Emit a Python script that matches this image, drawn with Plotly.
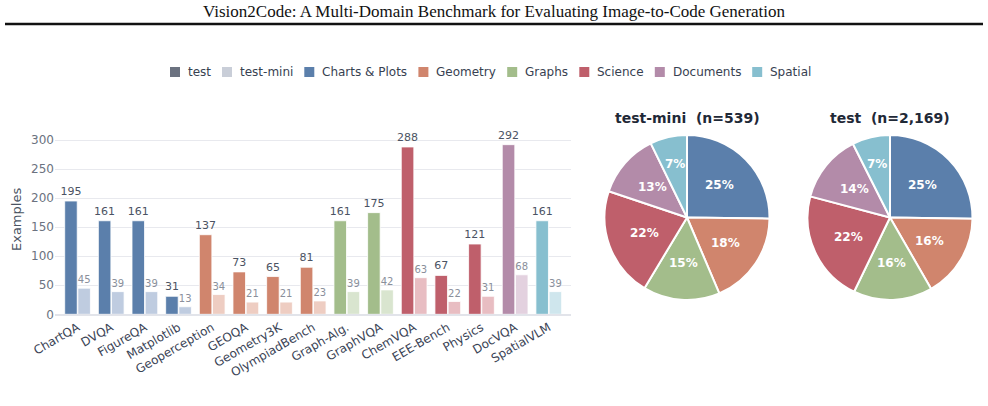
import math
import plotly.graph_objects as go

W, H = 988, 406

categories = ["ChartQA", "DVQA", "FigureQA", "Matplotlib", "Geoperception", "GEOQA",
              "Geometry3K", "OlympiadBench", "Graph-Alg.", "GraphVQA", "ChemVQA",
              "EEE-Bench", "Physics", "DocVQA", "SpatialVLM"]
test_counts = [195, 161, 161, 31, 137, 73, 65, 81, 161, 175, 288, 67, 121, 292, 161]
test_mini_counts = [45, 39, 39, 13, 34, 21, 21, 23, 39, 42, 63, 22, 31, 68, 39]
category_domain = ["Charts & Plots"] * 4 + ["Geometry"] * 4 + ["Graphs"] * 2 + \
                  ["Science"] * 3 + ["Documents"] + ["Spatial"]

domains = ["Charts & Plots", "Geometry", "Graphs", "Science", "Documents", "Spatial"]
domain_colors = ["#5b7fab", "#d0856d", "#a3bd8b", "#bf5f6b", "#b38ba9", "#87bfcf"]
domain_light = ["#bfcce0", "#eecdc2", "#d9e5cf", "#e8bdc2", "#e3d1df", "#cfe6ed"]

split_names = ["test", "test-mini"]
split_colors = ["#6b7280", "#c9ced8"]

test_total_label = "test  (n=2,169)"
mini_total_label = "test-mini  (n=539)"

cmap = dict(zip(domains, domain_colors))
lmap = dict(zip(domains, domain_light))


def px_x(x):
    return x / W


def px_y(y):
    return (H - y) / H


fig = go.Figure()

fig.add_trace(go.Bar(
    x=categories, y=test_counts, name="test", offsetgroup="test",
    marker=dict(color=[cmap[d] for d in category_domain], line=dict(color="white", width=0.8)),
    text=test_counts, textposition="outside", cliponaxis=False, constraintext="none",
    textfont=dict(size=11, color="#4b5363"), showlegend=False,
))
fig.add_trace(go.Bar(
    x=categories, y=test_mini_counts, name="test-mini", offsetgroup="mini",
    marker=dict(color=[lmap[d] for d in category_domain], line=dict(color="white", width=0.8)),
    text=test_mini_counts, textposition="outside", cliponaxis=False, constraintext="none",
    textfont=dict(size=10, color="#8a8f9b"), showlegend=False,
))

mini_vals = [sum(v for v, d in zip(test_mini_counts, category_domain) if d == dom) for dom in domains]
test_vals = [sum(v for v, d in zip(test_counts, category_domain) if d == dom) for dom in domains]


def rounded_percents(vals):
    tot = sum(vals)
    raw = [v * 100 / tot for v in vals]
    fl = [math.floor(r) for r in raw]
    rem = 100 - sum(fl)
    order = sorted(range(len(vals)), key=lambda i: raw[i] - fl[i], reverse=True)
    for i in order[:rem]:
        fl[i] += 1
    return fl


annotations = []


def add_pie(vals, cx, cy, r):
    fig.add_trace(go.Pie(
        labels=domains, values=vals, sort=False, direction="clockwise", rotation=0,
        marker=dict(colors=domain_colors, line=dict(color="white", width=2)),
        textinfo="none", showlegend=False, hoverinfo="label+value+percent",
        domain=dict(x=[px_x(cx - r), px_x(cx + r)], y=[px_y(cy + r), px_y(cy - r)]),
    ))
    tot = sum(vals)
    pcts = rounded_percents(vals)
    cum = 0
    for v, p in zip(vals, pcts):
        frac = v / tot
        mid = (cum + frac / 2) * 2 * math.pi
        cum += frac
        rr = r * (0.67 if frac < 0.1 else 0.555)
        annotations.append(dict(
            text=f"<b>{p}%</b>", x=px_x(cx + rr * math.sin(mid)), y=px_y(cy - rr * math.cos(mid)),
            xref="paper", yref="paper", showarrow=False, xanchor="center", yanchor="middle",
            font=dict(family="DejaVu Sans", size=12, color="white")))


add_pie(mini_vals, 687, 217.5, 82.5)
add_pie(test_vals, 890, 217.5, 82.5)

annotations += [
    dict(text="Vision2Code: A Multi-Domain Benchmark for Evaluating Image-to-Code Generation",
         x=px_x(494), y=px_y(12), xref="paper", yref="paper", showarrow=False,
         font=dict(family="Liberation Serif", size=17, color="#111111"), xanchor="center", yanchor="middle"),
    dict(text=mini_total_label, x=px_x(687), y=px_y(118), xref="paper", yref="paper", showarrow=False,
         font=dict(family="DejaVu Sans", size=14, color="#1f2937", weight="bold"), xanchor="center", yanchor="middle"),
    dict(text=test_total_label, x=px_x(890), y=px_y(118), xref="paper", yref="paper", showarrow=False,
         font=dict(family="DejaVu Sans", size=14, color="#1f2937", weight="bold"), xanchor="center", yanchor="middle"),
    dict(text="Examples", x=px_x(16), y=px_y(220), xref="paper", yref="paper", showarrow=False,
         textangle=-90, font=dict(family="DejaVu Sans", size=13, color="#4b5563"),
         xanchor="center", yanchor="middle"),
]

# compact legend: coloured squares + labels
legend_names = split_names + domains
legend_colors = split_colors + domain_colors
legend_text_widths = [23.0, 53.3, 85.1, 59.8, 43.1, 46.5, 68.4, 41.3]
shapes = [dict(type="line", xref="paper", yref="paper", x0=px_x(5), x1=px_x(983),
               y0=px_y(24), y1=px_y(24), line=dict(color="#111111", width=2.5))]
lx, ly = 170.0, 72.0
for name, col, tw in zip(legend_names, legend_colors, legend_text_widths):
    shapes.append(dict(type="rect", xref="paper", yref="paper",
                       x0=px_x(lx), x1=px_x(lx + 10), y0=px_y(ly + 5), y1=px_y(ly - 5),
                       fillcolor=col, line=dict(width=0)))
    annotations.append(dict(text=name, x=px_x(lx + 16), y=px_y(ly), xref="paper", yref="paper",
                            showarrow=False, xanchor="left", yanchor="middle",
                            font=dict(family="DejaVu Sans", size=12, color="#374151")))
    lx += 16 + tw + 13

fig.update_layout(
    width=W, height=H, margin=dict(l=0, r=0, t=0, b=0),
    paper_bgcolor="white", plot_bgcolor="white",
    font=dict(family="DejaVu Sans", color="#374151"),
    barmode="group", bargap=0.216, bargroupgap=0.05, showlegend=False,
    xaxis=dict(domain=[px_x(55), px_x(571)], range=[-0.67, 14.66], tickangle=-30,
               tickfont=dict(size=12, color="#3b4456"), showgrid=False, automargin=False,
               showline=True, linecolor="#e2e4ea", linewidth=1.5, ticks=""),
    yaxis=dict(domain=[px_y(314.3), px_y(134.2)], range=[0, 310], tickvals=[0, 50, 100, 150, 200, 250, 300],
               tickfont=dict(size=12, color="#6b7280"), gridcolor="#e8e9ee", gridwidth=1,
               zeroline=False, showline=False, ticks="", automargin=False),
    annotations=annotations,
    shapes=shapes,
)

fig.write_html("out.html")
